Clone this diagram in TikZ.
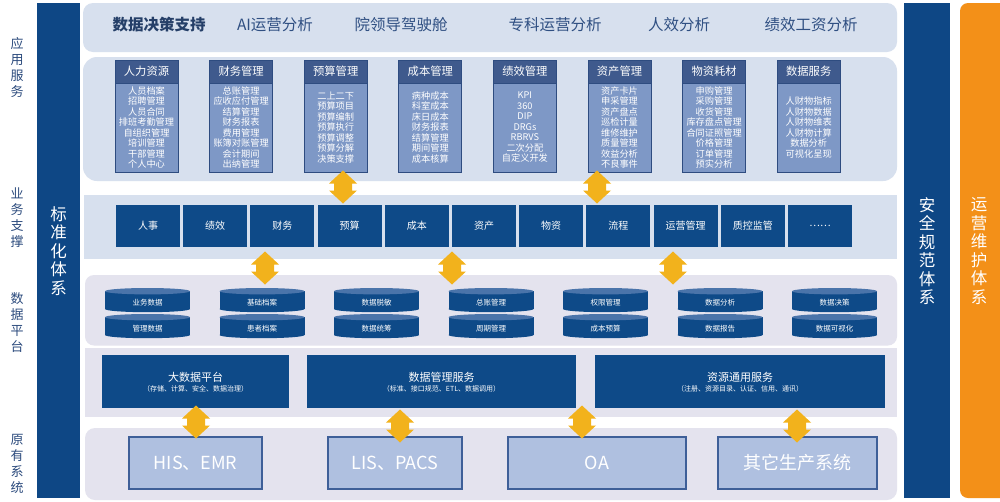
\documentclass[tikz,border=0pt]{standalone}
\usepackage{fontspec}
\newfontfamily\cjk{Noto Sans CJK SC}
\newcommand\myfs[2]{\fontsize{#1}{#2}\selectfont}
\definecolor{barblue}{HTML}{0E4785}
\definecolor{dblue}{HTML}{0E4A88}
\definecolor{panblue}{HTML}{D7E0EE}
\definecolor{panlav}{HTML}{E4E3EE}
\definecolor{hdr}{HTML}{3F5A8D}
\definecolor{bodyc}{HTML}{7E98C6}
\definecolor{bord}{HTML}{2E4C80}
\definecolor{cyltop}{HTML}{4A74AA}
\definecolor{sysfill}{HTML}{AFC0E0}
\definecolor{sysbord}{HTML}{3E5F98}
\definecolor{arrc}{HTML}{F2B21C}
\definecolor{orng}{HTML}{F39018}
\definecolor{labc}{HTML}{2C4B7D}
\definecolor{topc}{HTML}{2F4F82}
\begin{document}
\begin{tikzpicture}[x=1pt,y=-1pt,
  every node/.style={inner sep=0pt, font=\cjk},
  vlab/.style={text=labc, align=center, font=\cjk\myfs{13}{16}},
  vbar/.style={text=white, align=center, font=\cjk\myfs{16.5}{18.5}},
  toptxt/.style={text=topc, font=\cjk\myfs{15.5}{18}},
  mhead/.style={fill=hdr, draw=bord, line width=0.8pt, minimum width=63pt, minimum height=23pt, text=white, font=\cjk\myfs{11.3}{13}},
  mbody/.style={fill=bodyc, draw=bord, line width=0.8pt, minimum width=63pt, minimum height=89pt, text=white, align=center, font=\cjk\myfs{9.2}{10.5}},
  bizbox/.style={fill=dblue, minimum width=64pt, minimum height=42pt, text=white, font=\cjk\myfs{10}{12}},
  cyltxt/.style={text=white, font=\cjk\myfs{7.5}{9}},
  platbox/.style={fill=dblue, minimum height=53pt, text=white},
  sysbox/.style={fill=sysfill, draw=sysbord, line width=1.2pt, minimum height=52pt, text=white, font=\cjk\myfs{18}{20}},
  udarr/.pic={\fill[arrc] (0,-16.5) -- (14,-3.5) -- (9,-3.5) -- (9,3.5) -- (14,3.5) -- (0,16.5) -- (-14,3.5) -- (-9,3.5) -- (-9,-3.5) -- (-14,-3.5) -- cycle;}
]
\useasboundingbox (0,0) rectangle (1000,501);
\fill[white] (0,0) rectangle (1000,501);

% left labels
\node[vlab] (l1) at (17,67) {应\\用\\服\\务};
\node[vlab] (l2) at (17,217.5) {业\\务\\支\\撑};
\node[vlab] (l3) at (17,322.5) {数\\据\\平\\台};
\node[vlab] (l4) at (17,463.5) {原\\有\\系\\统};

% side bars
\fill[barblue] (37,3) rectangle (80,498);
\node[vbar] (stdtxt) at (58.5,251) {标\\准\\化\\体\\系};
\fill[barblue] (904,3) rectangle (950,498);
\node[vbar] (sectxt) at (927,251) {安\\全\\规\\范\\体\\系};
\fill[orng, rounded corners=8] (960,3) rectangle (1015,498);
\node[vbar] (opstxt) at (979,251) {运\\营\\维\\护\\体\\系};

% panels
\fill[panblue, rounded corners=10] (83,3) rectangle (897,52);
\fill[panblue, rounded corners=14] (83,57) rectangle (897,181);
\fill[panblue] (84,195) rectangle (897,259);
\fill[panlav, rounded corners=9] (85,275) rectangle (897,345.5);
\fill[panlav] (85,347.5) rectangle (897,417);
\fill[panlav, rounded corners=10] (85,428) rectangle (897,500);

% top row
\node[text=topc!80!black, font=\cjk\myfs{15.5}{18}\bfseries] (t1) at (159,25) {数据决策支持};
\node[toptxt] (t2) at (275,25) {AI运营分析};
\node[toptxt] (t3) at (401,25) {院领导驾驶舱};
\node[toptxt] (t4) at (555,25) {专科运营分析};
\node[toptxt] (t5) at (679,25) {人效分析};
\node[toptxt] (t6) at (811,25) {绩效工资分析};

% module boxes
\foreach \hd/\bd [count=\i from 0] in {
  人力资源/{人员档案\\招聘管理\\人员合同\\排班考勤管理\\自组织管理\\培训管理\\干部管理\\个人中心},
  财务管理/{总账管理\\应收应付管理\\结算管理\\财务报表\\费用管理\\账簿对账管理\\会计期间\\出纳管理},
  预算管理/{二上二下\\预算项目\\预算编制\\预算执行\\预算调整\\预算分解\\决策支撑},
  成本管理/{病种成本\\科室成本\\床日成本\\财务报表\\结算管理\\期间管理\\成本核算},
  绩效管理/{KPI\\360\\DIP\\DRGs\\RBRVS\\二次分配\\自定义开发},
  资产管理/{资产卡片\\申采管理\\资产盘点\\巡检计量\\维修维护\\质量管理\\效益分析\\不良事件},
  物资耗材/{申购管理\\采购管理\\收货管理\\库存盘点管理\\合同证照管理\\价格管理\\订单管理\\预实分析},
  数据服务/{人财物指标\\人财物数据\\人财物维表\\人财物计算\\数据分析\\可视化呈现}} {
  \pgfmathsetmacro\mx{146.5+94.6*\i}
  \node[mbody] (mb\i) at (\mx,127.5) {\bd};
  \node[mhead] (mh\i) at (\mx,71.5) {\hd};
}

% business row
\foreach \t [count=\i from 0] in {人事,绩效,财务,预算,成本,资产,物资,流程,运营管理,质控监管,……} {
  \pgfmathsetmacro\bx{148+67.2*\i}
  \node[bizbox] (bz\i) at (\bx,226) {\t};
}

% cylinders
\foreach \ta/\tb [count=\i from 0] in {业务数据/管理数据, 基础档案/患者档案, 数据脱敏/数据统筹, 总账管理/周期管理, 权限管理/成本预算, 数据分析/数据报告, 数据决策/数据可视化} {
  \pgfmathsetmacro\cx{147.5+114.5*\i}
  \foreach \tp in {288,314} {
    \fill[dblue] (\cx,\tp+21) ellipse [x radius=42.5, y radius=3.2];
    \fill[dblue] (\cx-42.5,\tp+3.2) rectangle (\cx+42.5,\tp+21);
    \fill[cyltop] (\cx,\tp+3.2) ellipse [x radius=42.5, y radius=3.2];
  }
  \node[cyltxt] (ca\i) at (\cx,302.5) {\ta};
  \node[cyltxt] (cb\i) at (\cx,328.5) {\tb};
}

% platform boxes
\node[platbox, minimum width=187pt] (pf1) at (195.5,381.5) {};
\node[text=white, font=\cjk\myfs{11}{13}] (pf1t) at (195.5,377) {大数据平台};
\node[text=white, font=\cjk\myfs{7}{9}] (pf1s) at (195.5,388.5) {（存储、计算、安全、数据治理）};
\node[platbox, minimum width=269pt] (pf2) at (441.5,381.5) {};
\node[text=white, font=\cjk\myfs{11}{13}] (pf2t) at (441.5,377) {数据管理服务};
\node[text=white, font=\cjk\myfs{7}{9}] (pf2s) at (441.5,388.5) {（标准、接口规范、ETL、数据调用）};
\node[platbox, minimum width=290pt] (pf3) at (740,381.5) {};
\node[text=white, font=\cjk\myfs{11}{13}] (pf3t) at (740,377) {资源通用服务};
\node[text=white, font=\cjk\myfs{7}{9}] (pf3s) at (740,388.5) {（注册、资源目录、认证、信用、通讯）};

% original systems
\node[sysbox, minimum width=133pt] (s1) at (195.5,463) {HIS、EMR};
\node[sysbox, minimum width=134pt] (s2) at (395,463) {LIS、PACS};
\node[sysbox, minimum width=178pt] (s3) at (597,463) {OA};
\node[sysbox, minimum width=159pt] (s4) at (797.5,463) {其它生产系统};

% double arrows
\coordinate (a1) at (343,187);
\coordinate (a2) at (597,187);
\coordinate (a3) at (265,268);
\coordinate (a4) at (452,268);
\coordinate (a5) at (673,268);
\coordinate (a6) at (196,422);
\coordinate (a7) at (400,426);
\coordinate (a8) at (582,422);
\coordinate (a9) at (797,426);
\foreach \a in {a1,a2,a3,a4,a5,a6,a7,a8,a9} { \pic at (\a) {udarr}; }
\end{tikzpicture}
\end{document}
